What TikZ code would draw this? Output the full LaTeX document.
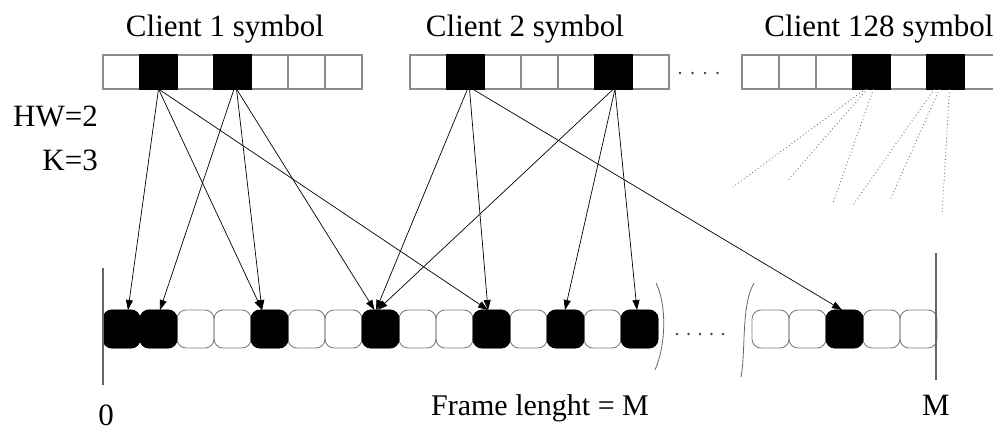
\documentclass[tikz,border=0pt]{standalone}
\usepackage{fontspec}
\setmainfont{Liberation Serif}
\usetikzlibrary{arrows.meta,calc}

\begin{document}
\begin{tikzpicture}[x=1pt,y=-1pt,
  symcell/.style={draw=black!45, line width=1.1pt, minimum width=37pt, minimum height=34pt, inner sep=0, outer sep=0},
  chip/.style={draw=black!50, line width=0.9pt, rounded corners=9pt, minimum width=37pt, minimum height=38pt, inner sep=0, outer sep=0},
  blk/.style={fill=black, draw=black},
  link/.style={line width=0.7pt, -{Triangle[length=10pt,width=7pt]}},
  faint/.style={line width=0.9pt, black!55, dash pattern=on 0.9pt off 2.6pt},
  lbl/.style={font=\fontsize{31}{36}\selectfont, inner sep=0, anchor=base},
  bar/.style={line width=1.6pt, black!60},
  pdot/.style={fill=black!75, circle, inner sep=0, minimum size=2.8pt}
]
\useasboundingbox (0,0) rectangle (993,433);

% symbol rows of the three clients
\foreach \i in {0,...,6} {
  \node[symcell] (ta\i) at (121.5+37*\i,72) {};
  \node[symcell] (tb\i) at (428.5+37*\i,72) {};
  \node[symcell] (tc\i) at (760.5+37*\i,72) {};
}
\foreach \n in {ta1,ta3,tb1,tb5,tc3,tc5} \node[symcell,blk] at (\n) {};

% frame slots, first part
\foreach \i in {0,...,14} \node[chip] (b\i) at (121.5+37*\i,329) {};
\foreach \i in {0,1,4,7,10,12,14} \node[chip,blk] at (b\i) {};
% frame slots, last part
\foreach \i in {0,...,4} \node[chip] (c\i) at (770.5+37*\i,329) {};
\node[chip,blk] at (c2) {};

% frame limits
\draw[bar] (103,268) -- (103,385);
\draw[bar] (936,253) -- (936,380);
\draw[line width=0.8pt, black!60] (656,283) .. controls (667,305) and (666,345) .. (655,370);
\draw[line width=0.8pt, black!60] (754,283) .. controls (741,305) and (746,350) .. (741,377);

% gaps
\foreach \x in {680,692.5,705,717.5} \node[pdot] at (\x,73) {};
\foreach \x in {677,688.5,700,711.5,723} \node[pdot] at (\x,334) {};

% client 1 mapping
\draw[link] (ta1.south) -- ([xshift=6.5pt]b0.north);
\draw[link] (ta1.south) -- ([xshift=-7.5pt]b4.north);
\draw[link] (ta1.south) -- ([xshift=-3.5pt]b10.north);
\draw[link] ([xshift=1.5pt]ta3.south) -- ([xshift=1.5pt]b1.north);
\draw[link] ([xshift=4pt]ta3.south) -- ([xshift=-7.5pt]b4.north);
\draw[link] ([xshift=4pt]ta3.south) -- ([xshift=-6pt]b7.north);

% client 2 mapping
\draw[link] ([xshift=2pt]tb1.south) -- ([xshift=-4.5pt]b7.north);
\draw[link] ([xshift=4pt]tb1.south) -- ([xshift=-3.5pt]b10.north);
\draw[link] ([xshift=7pt]tb1.south) -- ([xshift=-2.5pt]c2.north);
\draw[link] (tb5.south) -- ([xshift=-3pt]b7.north);
\draw[link] ([xshift=1.5pt]tb5.south) -- ([xshift=-0.5pt]b12.north);
\draw[link] ([xshift=1.5pt]tb5.south) -- ([xshift=-2.5pt]b14.north);

% client 128 mapping, left open
\coordinate (e1) at (733,187);
\coordinate (e2) at (788,180);
\coordinate (e3) at (833,203);
\coordinate (e4) at (853,205);
\coordinate (e5) at (890,200);
\coordinate (e6) at (942,215);
\draw[faint] ([xshift=-6pt]tc3.south) -- (e1);
\draw[faint] ([xshift=-4pt]tc3.south) -- (e2);
\draw[faint] ([xshift=2pt]tc3.south) -- (e3);
\draw[faint] ([xshift=-11pt]tc5.south) -- (e4);
\draw[faint] ([xshift=-6pt]tc5.south) -- (e5);
\draw[faint] ([xshift=4pt]tc5.south) -- (e6);

% labels
\node[lbl] (l1) at (225,37) {Client 1 symbol};
\node[lbl] (l2) at (525,37) {Client 2 symbol};
\node[lbl] (l3) at (879,37) {Client 128 symbol};
\node[lbl,anchor=base east] (hw) at (98,127) {HW=2};
\node[lbl,anchor=base east] (kk) at (98,170) {K=3};
\node[lbl,font=\fontsize{30}{36}\selectfont] (fl) at (540,415) {Frame lenght = M};
\node[lbl] (mm) at (936,415) {M};
\node[lbl] (zero) at (106,425) {0};
\end{tikzpicture}
\end{document}
